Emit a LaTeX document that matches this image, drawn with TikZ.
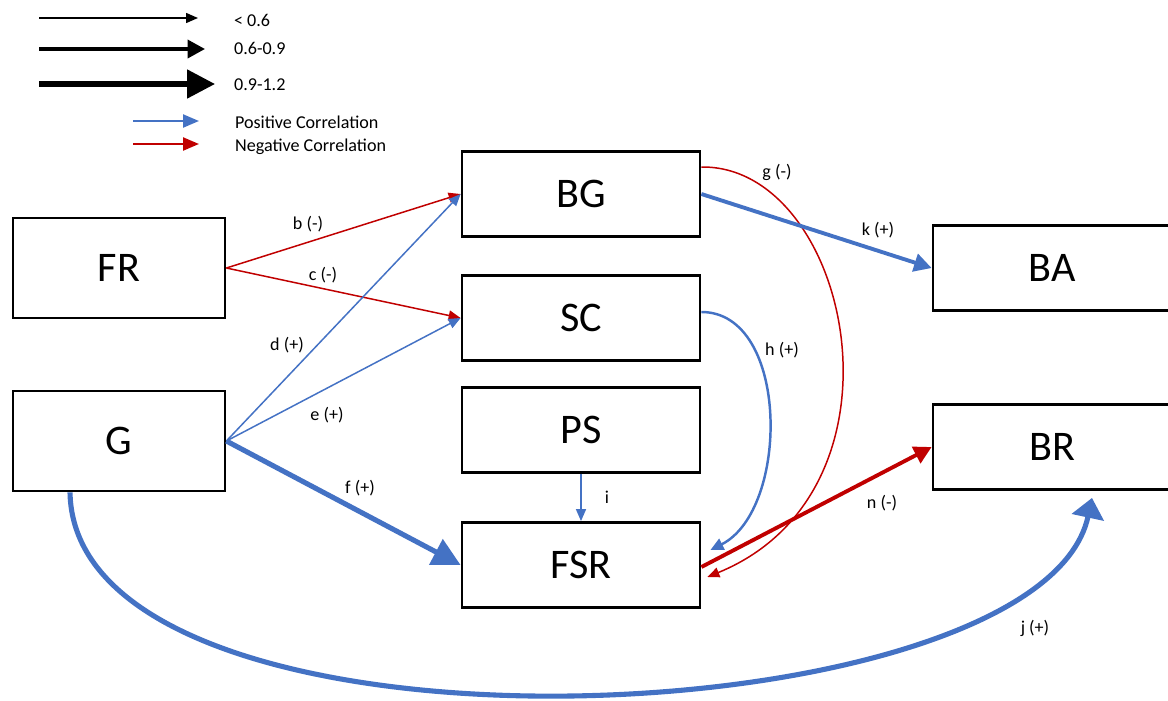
\documentclass[tikz,border=0pt]{standalone}
\usepackage{fontspec}
\setmainfont{Carlito}
\usetikzlibrary{arrows.meta, positioning}
\definecolor{posblue}{RGB}{68,114,196}
\definecolor{negred}{RGB}{192,0,0}

\begin{document}
\begin{tikzpicture}[x=0.02cm, y=-0.02cm,
		box/.style={draw, line width=1.6pt, minimum width=4.76cm, minimum height=1.7cm, inner sep=0pt, font=\fontsize{24}{28}\selectfont},
		bigbox/.style={box, minimum width=4.24cm, minimum height=2cm},
		lbl/.style={inner sep=1pt, text=black, font=\fontsize{10.3}{12}\selectfont},
		thinarr/.style={line width=0.85pt, -{Triangle[length=0.24cm, width=0.2cm]}},
		midarr/.style={line width=2.2pt, -{Triangle[length=0.35cm, width=0.36cm]}},
		thickarr/.style={line width=2.9pt, -{Triangle[length=0.56cm, width=0.56cm]}},
		poscor/.style={posblue},
		negcor/.style={negred}]
			\useasboundingbox (0,0) rectangle (1168,700);

			% legend
			\coordinate (l1) at (39,18);
			\coordinate (r1) at (198,18);
			\coordinate (l2) at (39,49);
			\coordinate (r2) at (205,49);
			\coordinate (l3) at (39,84);
			\coordinate (r3) at (215,84);
			\coordinate (l4) at (133,121);
			\coordinate (r4) at (199,121);
			\coordinate (l5) at (133,144);
			\coordinate (r5) at (199,144);
			\draw[thinarr] (l1) -- (r1);
			\draw[midarr] (l2) -- (r2);
			\draw[thickarr] (l3) -- (r3);
			\draw[poscor, line width=1.3pt, -{Triangle[length=0.32cm, width=0.26cm]}] (l4) -- (r4);
			\draw[negcor, line width=1.3pt, -{Triangle[length=0.32cm, width=0.26cm]}] (l5) -- (r5);
			\node (t1)[lbl, right] at (232,20) {< 0.6};
			\node (t2)[lbl, right] at (232,48) {0.6-0.9};
			\node (t3)[lbl, right] at (232,85) {0.9-1.2};
			\node (t4)[lbl, right] at (233,122) {Positive Correlation};
			\node (t5)[lbl, right] at (233,147) {Negative Correlation};

			% boxes
			\node (FR)[bigbox] at (119,268) {FR};
			\node (G)[bigbox] at (119,441) {G};
			\node (BG)[box] at (581,194) {BG};
			\node (SC)[box] at (581,318) {SC};
			\node (PS)[box] at (581,430) {PS};
			\node (FSR)[box] at (581,565) {FSR};
			\node (BA)[box] at (1052,268) {BA};
			\node (BR)[box] at (1052,447) {BR};

			% connectors
			\draw[negcor, thinarr] (FR.east) -- (BG.west) node (lb)[lbl] at (308,224) {b (-)};
			\draw[negcor, thinarr] (FR.east) -- (SC.west) node (lc)[lbl] at (323,275) {c (-)};
			\draw[poscor, thinarr] (G.east) -- (BG.west) node (ld)[lbl] at (287,345) {d (+)};
			\draw[poscor, thinarr] (G.east) -- (SC.west) node (le)[lbl] at (327,415) {e (+)};
			\draw[poscor, thickarr] (G.east) -- (FSR.west) node (lf)[lbl] at (360,488) {f (+)};
			\draw[poscor, thinarr] (PS.south) -- (FSR.north) node (li)[lbl] at (607,497) {i};
			\draw[negcor, thinarr] ([yshift=0.54cm]BG.east) .. controls (850,165) and (920,490) .. ([xshift=0.12cm, yshift=-0.24cm]FSR.east) node (lg)[lbl] at (777,172) {g (-)};
			\draw[poscor, line width=1.4pt, -{Triangle[length=0.26cm, width=0.24cm]}] ([yshift=0.12cm]SC.east) .. controls (790,312) and (790,510) .. ([xshift=0.18cm, yshift=0.3cm]FSR.east) node (lh)[lbl] at (782,350) {h (+)};
			\draw[poscor, midarr] (BG.east) -- (BA.west) node (lk)[lbl] at (878,230) {k (+)};
			\draw[negcor, midarr] ([yshift=-0.04cm]FSR.east) -- (BR.west) node (ln)[lbl] at (882,503) {n (-)};
			\draw[poscor, line width=2.9pt, -{Triangle[length=0.4cm, width=0.64cm]}] ([xshift=-0.98cm]G.south) .. controls (75,780) and (1040,740) .. ([xshift=0.8cm, yshift=-0.14cm]BR.south) node (lj)[lbl] at (1035,628) {j (+)};
		\end{tikzpicture}
\end{document}
